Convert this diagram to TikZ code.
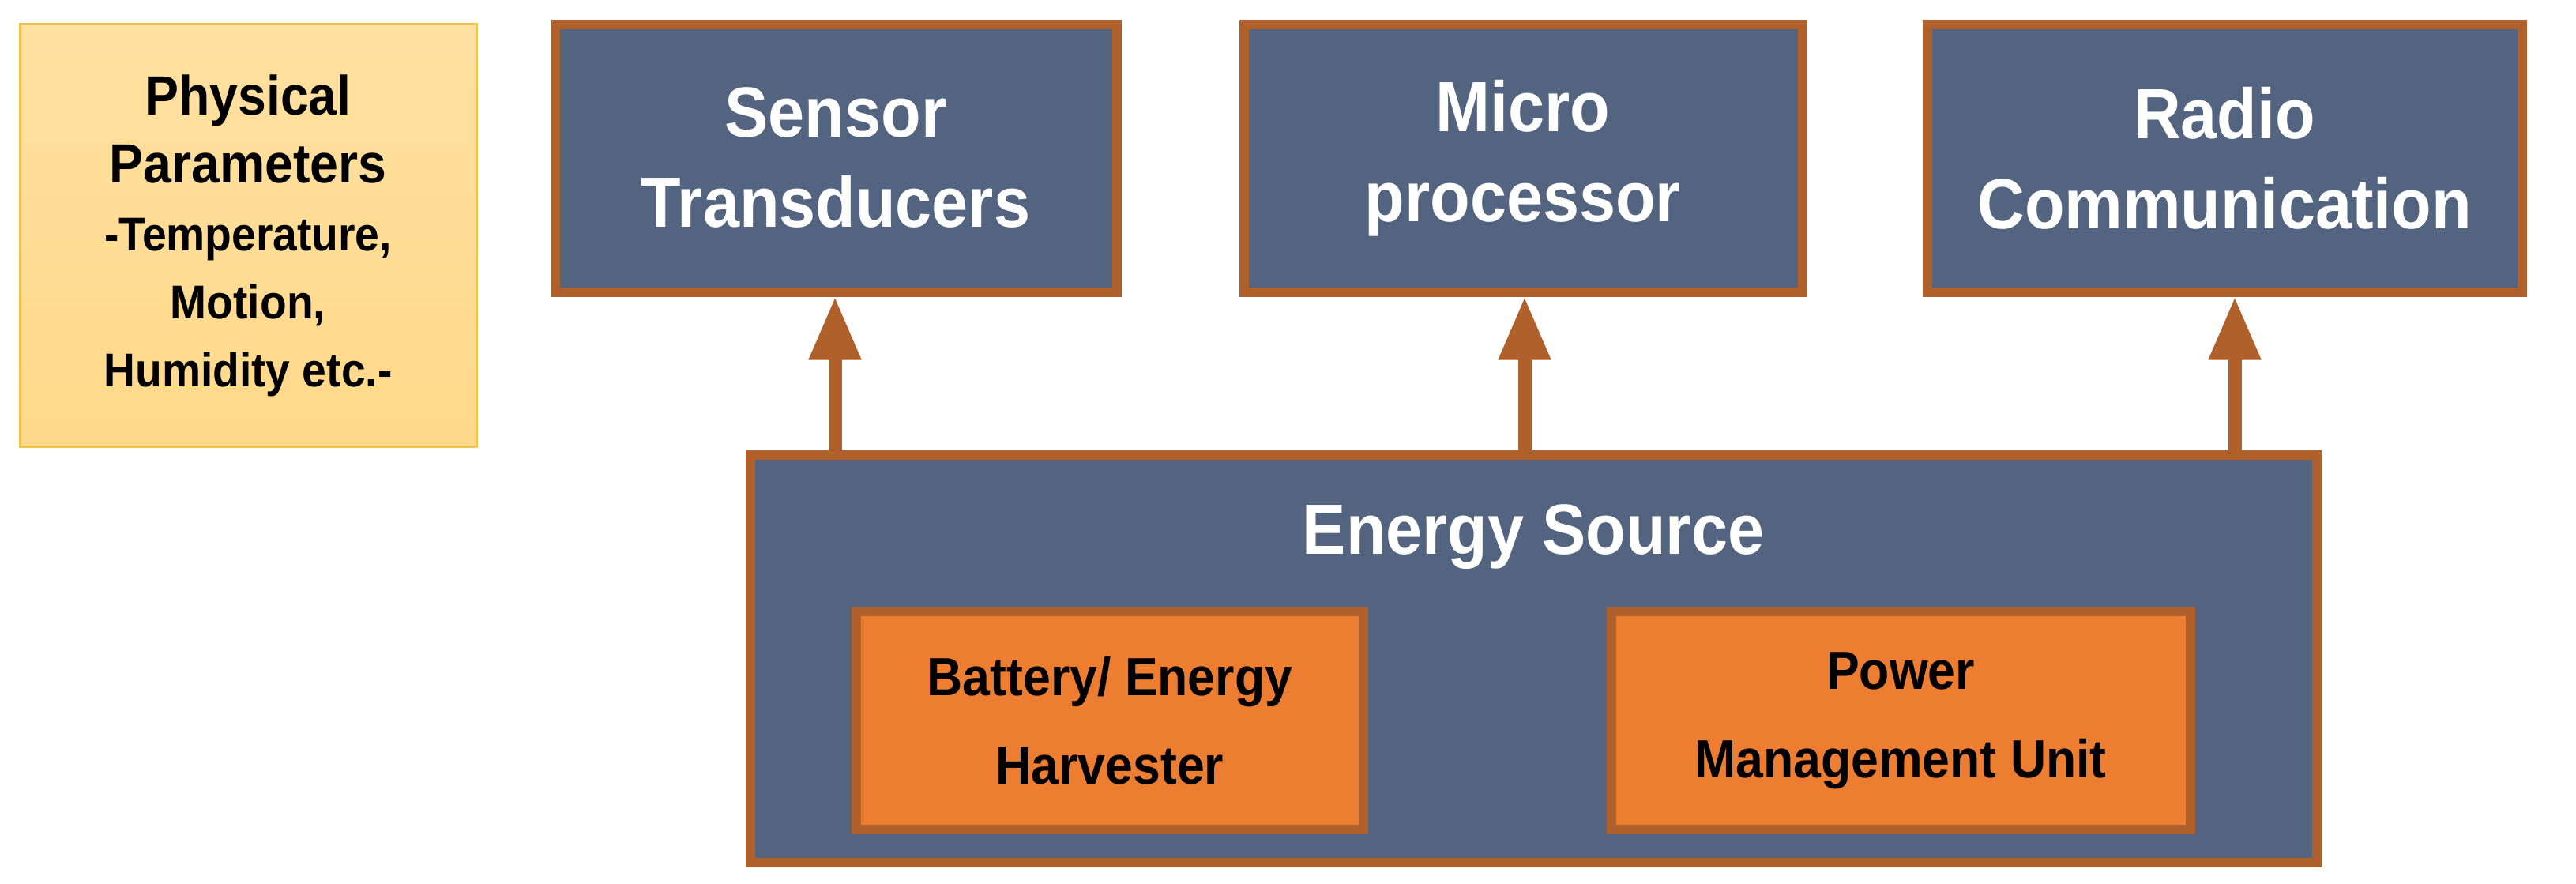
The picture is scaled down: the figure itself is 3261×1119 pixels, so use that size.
\documentclass[tikz,border=0pt]{standalone}
\usepackage{fontspec}
\setmainfont{Liberation Sans}[FakeStretch=0.92]
\usetikzlibrary{arrows.meta}
\begin{document}
\begin{tikzpicture}[x=1pt,y=-1pt,
  blu/.style={draw=brd,line width=12pt,fill=bluf,text=white,font=\fontsize{90}{114}\selectfont\bfseries,align=center,inner sep=0pt},
  org/.style={draw=brd,line width=12pt,fill=orgf,text=black,font=\fontsize{68}{112}\selectfont\bfseries,align=center,inner sep=0pt},
  arr/.style={draw=brd,line width=17pt,-{Triangle[length=80pt,width=62pt]}}]
\definecolor{brd}{HTML}{B0602A}
\definecolor{bluf}{HTML}{536481}
\definecolor{orgf}{HTML}{ED7D31}
\definecolor{yel}{HTML}{FFD98A}
\definecolor{yelb}{HTML}{F2C24A}
\useasboundingbox (0,0) rectangle (3261,1119);
\fill[white] (0,0) rectangle (3261,1119);
\node[draw=yelb,line width=3pt,top color=yel!80!white,bottom color=yel,minimum width=578pt,minimum height=535pt,align=center,inner sep=0pt,font=\fontsize{60}{86}\selectfont\bfseries] (phys) at (314,298)
 {{\fontsize{70}{86}\selectfont Physical}\\{\fontsize{70}{86}\selectfont Parameters}\\-Temperature,\\Motion,\\Humidity etc.-};
\node[blu,minimum width=711pt,minimum height=339pt] (sens) at (1058,200) {Sensor\\Transducers};
\node[blu,minimum width=707pt,minimum height=339pt] (micro) at (1928,200) {Micro\\processor};
\node[blu,minimum width=753pt,minimum height=339pt] (radio) at (2816,200) {Radio\\Communication};
\node[draw=brd,line width=12pt,fill=bluf,minimum width=1983pt,minimum height=516pt] (es) at (1941,834) {};
\node[text=white,font=\fontsize{90}{100}\selectfont\bfseries] (est) at (1941,680) {Energy Source};
\node[org,minimum width=642pt,minimum height=276pt] (bat) at (1405,912) {Battery/ Energy\\Harvester};
\node[org,minimum width=733pt,minimum height=276pt] (pmu) at (2406,912) {Power\\Management Unit};
\draw[arr] (es.north -| 1057,0) -- (sens.south -| 1057,0);
\draw[arr] (es.north -| 1930,0) -- (micro.south -| 1930,0);
\draw[arr] (es.north -| 2829,0) -- (radio.south -| 2829,0);
\end{tikzpicture}
\end{document}
